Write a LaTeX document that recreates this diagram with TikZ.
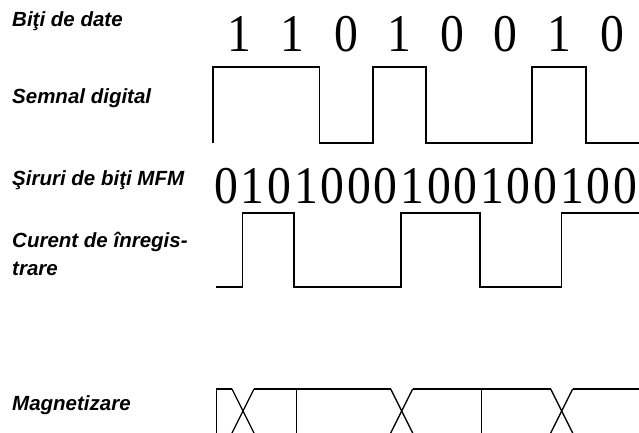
\documentclass[tikz,border=0pt]{standalone}
\usepackage{fontspec}
\setmainfont{Liberation Serif}
\setsansfont{Liberation Sans}
\newcommand\dgt[1]{\scalebox{0.9}[1]{#1}}
\begin{document}
\begin{tikzpicture}[x=1pt,y=-1pt,
  lab/.style={anchor=base west,inner sep=0pt,font=\sffamily\bfseries\itshape\fontsize{20.5}{22}\selectfont},
  dig/.style={anchor=base,inner sep=0pt,font=\fontsize{53}{53}\selectfont},
  wave/.style={line width=1.3pt,line join=miter}]
\useasboundingbox (0,0) rectangle (639,433);
% labels
\node[lab] (l1) at (12,27) {Biţi de date};
\node[lab] (l2) at (12,103) {Semnal digital};
\node[lab] (l3) at (12,185) {Şiruri de biţi MFM};
\node[lab] (l4) at (12,247) {Curent de înregis-};
\node[lab] (l5) at (12,275) {trare};
\node[lab] (l6) at (12,410) {Magnetizare};
% data bits
\foreach \i/\b in {0/1,1/1,2/0,3/1,4/0,5/0,6/1,7/0}
  \node[dig] (d\i) at ({239.6+53.25*\i},52) {\dgt{\b}};
% MFM bits
\foreach \j/\b in {0/0,1/1,2/0,3/1,4/0,5/0,6/0,7/1,8/0,9/0,10/1,11/0,12/0,13/1,14/0,15/0}
  \node[dig] (m\j) at ({226.3+26.6*\j},203) {\dgt{\b}};
% digital signal
\draw[wave] (213,143) -- (213,67) -- (319.5,67) -- (319.5,143) -- (373,143) -- (373,67)
  -- (426,67) -- (426,143) -- (532,143) -- (532,67) -- (586,67) -- (586,143) -- (645,143);
% write current
\draw[wave] (216,287) -- (242.7,287) -- (242.7,213) -- (294,213) -- (294,287) -- (401,287)
  -- (401,213) -- (480,213) -- (480,287) -- (561.7,287) -- (561.7,213) -- (645,213);
% magnetisation
\draw[wave] (216.7,440) -- (216.7,389) -- (232,389);
\draw[wave] (254,389) -- (390.7,389);
\draw[wave] (412.7,389) -- (550.7,389);
\draw[wave] (572.7,389) -- (645,389);
\foreach \c in {243,401.7,561.7}{
  \draw[wave] (\c-11,389) -- (\c+11,433) -- (\c+12,435);
  \draw[wave] (\c+11,389) -- (\c-11,433) -- (\c-12,435);
}
\foreach \v in {296.7,481.7}
  \draw[wave] (\v,389) -- (\v,440);
\end{tikzpicture}
\end{document}
